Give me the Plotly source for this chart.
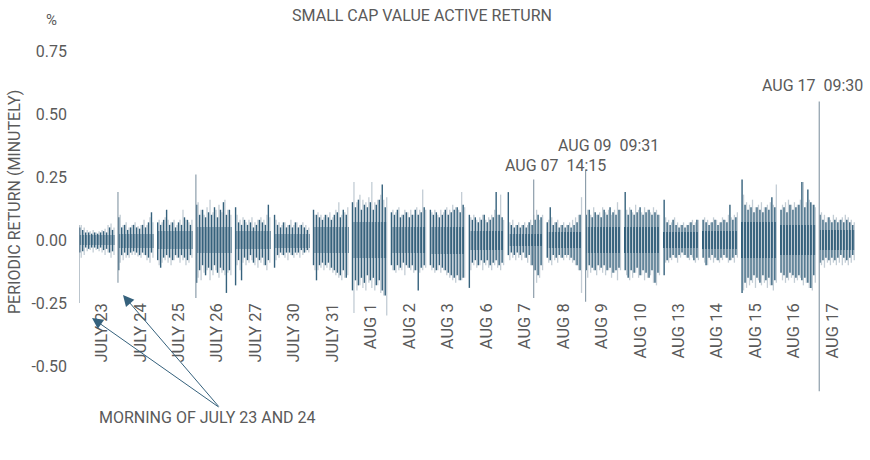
import plotly.graph_objects as go

# trading days shown on the chart
days = ["JULY 23", "JULY 24", "JULY 25", "JULY 26", "JULY 27", "JULY 30", "JULY 31",
        "AUG 1", "AUG 2", "AUG 3", "AUG 6", "AUG 7", "AUG 8", "AUG 9", "AUG 10",
        "AUG 13", "AUG 14", "AUG 15", "AUG 16", "AUG 17"]

# dense core band of each day (%)
core_hi = [0.02, 0.025, 0.035, 0.05, 0.035, 0.025, 0.05, 0.07, 0.05, 0.05,
           0.035, 0.025, 0.03, 0.05, 0.05, 0.03, 0.035, 0.07, 0.06, 0.04]
core_lo = [-0.02, -0.03, -0.035, -0.05, -0.035, -0.03, -0.05, -0.07, -0.05, -0.055,
           -0.04, -0.025, -0.03, -0.05, -0.05, -0.03, -0.035, -0.07, -0.06, -0.04]

# active return extremes, 12 buckets per day (%)
dark_hi = [
    [0.05, 0.04, 0.03, 0.03, 0.025, 0.03, 0.025, 0.03, 0.035, 0.03, 0.05, 0.04],
    [0.09, 0.05, 0.06, 0.04, 0.05, 0.06, 0.05, 0.045, 0.06, 0.05, 0.07, 0.11],
    [0.07, 0.06, 0.08, 0.12, 0.06, 0.07, 0.05, 0.07, 0.06, 0.09, 0.08, 0.06],
    [0.14, 0.1, 0.12, 0.09, 0.11, 0.1, 0.13, 0.09, 0.12, 0.15, 0.1, 0.12],
    [0.13, 0.07, 0.06, 0.08, 0.06, 0.07, 0.05, 0.06, 0.08, 0.07, 0.06, 0.14],
    [0.1, 0.06, 0.05, 0.07, 0.05, 0.06, 0.05, 0.07, 0.05, 0.06, 0.05, 0.04],
    [0.12, 0.1, 0.09, 0.08, 0.1, 0.09, 0.08, 0.1, 0.11, 0.09, 0.12, 0.1],
    [0.15, 0.13, 0.16, 0.12, 0.14, 0.13, 0.15, 0.12, 0.14, 0.16, 0.22, 0.13],
    [0.11, 0.1, 0.12, 0.09, 0.1, 0.11, 0.09, 0.1, 0.12, 0.1, 0.11, 0.13],
    [0.12, 0.1, 0.11, 0.09, 0.1, 0.12, 0.1, 0.11, 0.12, 0.13, 0.11, 0.14],
    [0.1, 0.08, 0.09, 0.07, 0.08, 0.1, 0.07, 0.08, 0.09, 0.19, 0.1, 0.09],
    [0.19, 0.06, 0.05, 0.06, 0.05, 0.06, 0.05, 0.07, 0.06, 0.08, 0.1, 0.09],
    [0.07, 0.13, 0.06, 0.07, 0.05, 0.06, 0.05, 0.06, 0.05, 0.06, 0.07, 0.1],
    [0.1, 0.12, 0.09, 0.11, 0.1, 0.09, 0.12, 0.1, 0.13, 0.11, 0.1, 0.12],
    [0.19, 0.1, 0.12, 0.1, 0.11, 0.13, 0.1, 0.11, 0.12, 0.1, 0.11, 0.1],
    [0.16, 0.07, 0.06, 0.08, 0.06, 0.05, 0.06, 0.05, 0.06, 0.07, 0.06, 0.08],
    [0.08, 0.07, 0.06, 0.07, 0.08, 0.06, 0.07, 0.08, 0.07, 0.14, 0.08, 0.09],
    [0.24, 0.14, 0.12, 0.13, 0.11, 0.13, 0.12, 0.11, 0.13, 0.12, 0.17, 0.13],
    [0.12, 0.13, 0.11, 0.14, 0.12, 0.13, 0.14, 0.23, 0.13, 0.2, 0.15, 0.14],
    [0.1, 0.08, 0.07, 0.09, 0.07, 0.08, 0.07, 0.08, 0.07, 0.08, 0.07, 0.06],
]
dark_lo = [
    [-0.05, -0.045, -0.03, -0.035, -0.03, -0.03, -0.035, -0.03, -0.04, -0.035, -0.05, -0.045],
    [-0.12, -0.06, -0.05, -0.06, -0.05, -0.045, -0.05, -0.06, -0.05, -0.06, -0.07, -0.05],
    [-0.08, -0.11, -0.07, -0.06, -0.07, -0.08, -0.06, -0.07, -0.06, -0.07, -0.08, -0.06],
    [-0.17, -0.12, -0.1, -0.14, -0.11, -0.12, -0.1, -0.13, -0.11, -0.12, -0.21, -0.12],
    [-0.18, -0.08, -0.16, -0.07, -0.08, -0.06, -0.09, -0.07, -0.08, -0.07, -0.1, -0.08],
    [-0.11, -0.06, -0.05, -0.06, -0.05, -0.05, -0.06, -0.05, -0.05, -0.04, -0.05, -0.04],
    [-0.1, -0.16, -0.1, -0.09, -0.1, -0.09, -0.11, -0.12, -0.13, -0.14, -0.12, -0.15],
    [-0.2, -0.16, -0.18, -0.15, -0.17, -0.14, -0.16, -0.15, -0.18, -0.16, -0.2, -0.22],
    [-0.1, -0.12, -0.1, -0.11, -0.09, -0.1, -0.11, -0.1, -0.12, -0.2, -0.11, -0.1],
    [-0.1, -0.11, -0.12, -0.1, -0.11, -0.12, -0.13, -0.14, -0.15, -0.14, -0.16, -0.15],
    [-0.19, -0.09, -0.08, -0.1, -0.08, -0.09, -0.08, -0.1, -0.09, -0.08, -0.1, -0.09],
    [-0.06, -0.05, -0.06, -0.05, -0.06, -0.05, -0.07, -0.06, -0.1, -0.12, -0.14, -0.1],
    [-0.07, -0.08, -0.06, -0.07, -0.06, -0.07, -0.06, -0.06, -0.07, -0.08, -0.1, -0.12],
    [-0.12, -0.1, -0.11, -0.12, -0.1, -0.11, -0.1, -0.12, -0.11, -0.13, -0.12, -0.11],
    [-0.12, -0.15, -0.12, -0.13, -0.11, -0.14, -0.12, -0.13, -0.15, -0.12, -0.17, -0.13],
    [-0.14, -0.08, -0.07, -0.06, -0.07, -0.06, -0.05, -0.06, -0.07, -0.06, -0.08, -0.07],
    [-0.07, -0.1, -0.07, -0.06, -0.07, -0.08, -0.07, -0.06, -0.07, -0.08, -0.07, -0.06],
    [-0.21, -0.17, -0.15, -0.16, -0.14, -0.15, -0.17, -0.14, -0.16, -0.15, -0.18, -0.16],
    [-0.13, -0.14, -0.15, -0.13, -0.14, -0.15, -0.14, -0.16, -0.15, -0.17, -0.19, -0.14],
    [-0.09, -0.08, -0.07, -0.08, -0.07, -0.08, -0.07, -0.06, -0.07, -0.08, -0.07, -0.06],
]

# lighter series, 12 buckets per day (%)
light_hi = [
    [0.06, 0.05, 0.04, 0.035, 0.04, 0.03, 0.035, 0.04, 0.045, 0.06, 0.065, 0.05],
    [0.1, 0.06, 0.07, 0.05, 0.06, 0.07, 0.055, 0.06, 0.08, 0.06, 0.09, 0.07],
    [0.08, 0.07, 0.09, 0.08, 0.07, 0.08, 0.06, 0.08, 0.12, 0.08, 0.07, 0.08],
    [0.15, 0.12, 0.1, 0.13, 0.16, 0.11, 0.12, 0.14, 0.11, 0.16, 0.12, 0.1],
    [0.1, 0.08, 0.09, 0.07, 0.08, 0.09, 0.07, 0.08, 0.09, 0.08, 0.1, 0.09],
    [0.08, 0.07, 0.06, 0.07, 0.06, 0.08, 0.06, 0.07, 0.06, 0.07, 0.06, 0.05],
    [0.1, 0.11, 0.1, 0.09, 0.1, 0.11, 0.09, 0.12, 0.15, 0.1, 0.11, 0.13],
    [0.23, 0.15, 0.18, 0.16, 0.15, 0.17, 0.23, 0.15, 0.16, 0.18, 0.16, 0.17],
    [0.12, 0.11, 0.13, 0.1, 0.12, 0.11, 0.12, 0.1, 0.13, 0.12, 0.2, 0.12],
    [0.11, 0.12, 0.1, 0.12, 0.11, 0.13, 0.12, 0.14, 0.13, 0.12, 0.19, 0.13],
    [0.09, 0.1, 0.08, 0.09, 0.1, 0.08, 0.09, 0.1, 0.12, 0.1, 0.18, 0.08],
    [0.07, 0.08, 0.06, 0.07, 0.06, 0.07, 0.06, 0.08, 0.1, 0.12, 0.08, 0.1],
    [0.08, 0.09, 0.07, 0.08, 0.06, 0.07, 0.06, 0.07, 0.08, 0.09, 0.1, 0.17],
    [0.12, 0.1, 0.13, 0.1, 0.11, 0.13, 0.11, 0.12, 0.1, 0.12, 0.15, 0.12],
    [0.12, 0.13, 0.11, 0.14, 0.12, 0.11, 0.13, 0.12, 0.11, 0.13, 0.12, 0.1],
    [0.09, 0.08, 0.07, 0.09, 0.07, 0.06, 0.07, 0.06, 0.07, 0.08, 0.07, 0.08],
    [0.09, 0.08, 0.07, 0.09, 0.08, 0.07, 0.09, 0.08, 0.1, 0.09, 0.1, 0.11],
    [0.18, 0.15, 0.14, 0.16, 0.13, 0.14, 0.15, 0.13, 0.14, 0.15, 0.14, 0.22],
    [0.14, 0.15, 0.16, 0.14, 0.15, 0.14, 0.16, 0.23, 0.15, 0.16, 0.14, 0.13],
    [0.11, 0.1, 0.09, 0.08, 0.1, 0.09, 0.08, 0.09, 0.1, 0.09, 0.08, 0.07],
]
light_lo = [
    [-0.07, -0.06, -0.045, -0.04, -0.05, -0.04, -0.045, -0.05, -0.06, -0.05, -0.07, -0.06],
    [-0.09, -0.08, -0.07, -0.07, -0.06, -0.06, -0.065, -0.07, -0.06, -0.08, -0.09, -0.07],
    [-0.1, -0.09, -0.08, -0.09, -0.1, -0.08, -0.07, -0.09, -0.08, -0.1, -0.09, -0.07],
    [-0.15, -0.16, -0.13, -0.12, -0.16, -0.14, -0.12, -0.15, -0.13, -0.14, -0.13, -0.14],
    [-0.1, -0.12, -0.09, -0.1, -0.09, -0.08, -0.1, -0.11, -0.09, -0.1, -0.12, -0.09],
    [-0.08, -0.07, -0.06, -0.07, -0.08, -0.06, -0.07, -0.06, -0.07, -0.06, -0.05, -0.05],
    [-0.12, -0.12, -0.11, -0.12, -0.11, -0.12, -0.13, -0.14, -0.15, -0.16, -0.15, -0.14],
    [-0.29, -0.2, -0.18, -0.19, -0.2, -0.17, -0.19, -0.2, -0.18, -0.21, -0.22, -0.3],
    [-0.12, -0.13, -0.12, -0.12, -0.14, -0.11, -0.12, -0.13, -0.12, -0.13, -0.12, -0.11],
    [-0.12, -0.13, -0.12, -0.13, -0.12, -0.14, -0.15, -0.16, -0.17, -0.16, -0.16, -0.15],
    [-0.12, -0.1, -0.11, -0.1, -0.12, -0.1, -0.11, -0.12, -0.1, -0.11, -0.12, -0.1],
    [-0.08, -0.07, -0.08, -0.07, -0.08, -0.07, -0.09, -0.1, -0.12, -0.17, -0.15, -0.12],
    [-0.09, -0.1, -0.08, -0.09, -0.07, -0.08, -0.07, -0.08, -0.09, -0.1, -0.12, -0.21],
    [-0.15, -0.13, -0.12, -0.14, -0.12, -0.13, -0.14, -0.12, -0.15, -0.13, -0.16, -0.12],
    [-0.14, -0.16, -0.15, -0.13, -0.15, -0.14, -0.16, -0.15, -0.14, -0.17, -0.18, -0.14],
    [-0.09, -0.09, -0.08, -0.07, -0.09, -0.07, -0.06, -0.07, -0.08, -0.07, -0.09, -0.08],
    [-0.09, -0.1, -0.08, -0.09, -0.08, -0.09, -0.08, -0.07, -0.09, -0.08, -0.09, -0.07],
    [-0.2, -0.19, -0.18, -0.17, -0.19, -0.16, -0.18, -0.17, -0.19, -0.18, -0.2, -0.17],
    [-0.16, -0.17, -0.16, -0.15, -0.17, -0.16, -0.15, -0.18, -0.17, -0.19, -0.2, -0.17],
    [-0.1, -0.11, -0.09, -0.1, -0.09, -0.1, -0.09, -0.1, -0.09, -0.1, -0.09, -0.08],
]

# single minutes that stand out
event_day = ["JULY 23", "JULY 24", "JULY 26", "AUG 7", "AUG 9", "AUG 17"]
event_time = ["09:30", "09:30", "09:30", "14:15", "09:31", "09:30"]
event_hi = [0.06, 0.19, 0.26, 0.24, 0.28, 0.55]
event_lo = [-0.25, -0.17, -0.23, -0.23, -0.245, -0.60]

DAY_LEN = 390      # minutes in a session
DAY_STEP = 425     # session + gap
N_SLOTS = 12
SLOT = DAY_LEN / N_SLOTS

DARK = "#35617c"
LIGHT = "#c3cdd5"
EVENT = "#8d9eab"
TEXT = "#5a5a5a"
FONT = "Roboto"

L, T, W, H = 79, 30, 776, 420   # plot box in pixels


def px(x, y):
    # pixel position -> paper coordinates
    return (x - L) / W, (T + H - y) / H


def minutes(t):
    h, m = t.split(":")
    return (int(h) - 9) * 60 + int(m) - 30


def spikes(hi, lo, shift):
    xs, ys = [], []
    for i in range(len(days)):
        for k in range(N_SLOTS):
            x = i * DAY_STEP + (k + shift) * SLOT
            xs += [x, x, None]
            ys += [lo[i][k], hi[i][k], None]
    return xs, ys


fig = go.Figure()

lx, ly = spikes(light_hi, light_lo, 0.75)
fig.add_trace(go.Scatter(x=lx, y=ly, mode="lines", line=dict(color=LIGHT, width=1.3),
                         hoverinfo="skip", showlegend=False))

fig.add_trace(go.Bar(
    x=[i * DAY_STEP + DAY_LEN / 2 for i in range(len(days))],
    y=[h - l for h, l in zip(core_hi, core_lo)],
    base=core_lo, width=DAY_LEN, marker=dict(color=DARK, line=dict(width=0)),
    hoverinfo="skip", showlegend=False))

dx, dy = spikes(dark_hi, dark_lo, 0.25)
fig.add_trace(go.Scatter(x=dx, y=dy, mode="lines", line=dict(color=DARK, width=1.4),
                         hoverinfo="skip", showlegend=False))

ex, ey = [], []
for d, t, h, l in zip(event_day, event_time, event_hi, event_lo):
    x = days.index(d) * DAY_STEP + minutes(t)
    ex += [x, x, None]
    ey += [l, h, None]
fig.add_trace(go.Scatter(x=ex, y=ey, mode="lines", line=dict(color=EVENT, width=1.2),
                         hoverinfo="skip", showlegend=False))

# carrier for the rotated day labels
fig.add_trace(go.Scatter(x=[0, len(days) - 1], y=[None, None], xaxis="x2",
                         hoverinfo="skip", showlegend=False))

fig.update_layout(
    width=870, height=460,
    margin=dict(l=L, r=870 - L - W, t=T, b=460 - T - H, autoexpand=False),
    paper_bgcolor="white", plot_bgcolor="rgba(0,0,0,0)",
    font=dict(family=FONT, color=TEXT, size=15),
    bargap=0,
    title=dict(text="SMALL CAP VALUE ACTIVE RETURN", x=422 / 870, xanchor="center",
               y=1 - 15 / 460, yanchor="middle", font=dict(size=16, color=TEXT)),
    xaxis=dict(range=[0, (len(days) - 1) * DAY_STEP + DAY_LEN], visible=False),
    xaxis2=dict(domain=[px(82.5, 0)[0], px(851.7, 0)[0]], anchor="free",
                position=px(0, 299)[1], automargin=False,
                range=[-0.5, len(days) - 0.5], tickvals=list(range(len(days))),
                ticktext=days, tickangle=-90, showgrid=False, zeroline=False,
                showline=False, ticks="", tickfont=dict(size=16.5, color=TEXT)),
    yaxis=dict(range=[-(H - (240 - T)) / 252, (240 - T) / 252],
               tickvals=[-0.5, -0.25, 0, 0.25, 0.5, 0.75],
               ticktext=["-0.50", "-0.25", "0.00", "0.25", "0.50", "0.75"],
               showgrid=False, zeroline=False, showline=False, ticks="",
               automargin=False, ticklabelstandoff=11, tickfont=dict(size=16, color=TEXT)),
)


def label(text, x, y, size=16, **kw):
    ax_, ay_ = px(x, y)
    return dict(text=text, x=ax_, y=ay_, xref="paper", yref="paper", showarrow=False,
                xanchor="center", yanchor="middle",
                font=dict(size=size, color=TEXT), **kw)


ann = [
    label("%", 51, 20, 15),
    label("PERIODIC RETURN (MINUTELY)", 14, 202, 16, textangle=-90),
    label("MORNING OF JULY 23 AND 24", 207, 417, 16),
    label("AUG\u00a007\u00a0\u00a014:15", 555, 166, 16),
    label("AUG\u00a009\u00a0\u00a009:31", 608, 145, 16),
    label("AUG\u00a017\u00a0\u00a009:30", 812, 86, 16),
]
for hx, hy, tx, ty in [(92, 318, 220, 408), (123, 295, 220, 408)]:
    hxp, hyp = px(hx, hy)
    ann.append(dict(text="", x=hxp, y=hyp, xref="paper", yref="paper",
                    ax=tx - hx, ay=ty - hy, showarrow=True, arrowhead=2, arrowsize=2.2,
                    arrowwidth=1, arrowcolor=DARK, standoff=0))
fig.update_layout(annotations=ann)

# the page should start at the window's corner
fig.write_html("out.html", config={"displayModeBar": False},
               post_script="document.body.style.margin='0';")
